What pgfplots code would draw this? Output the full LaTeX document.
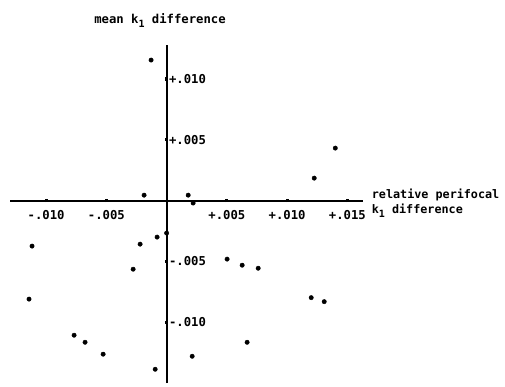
\documentclass[border=0pt]{standalone}
\usepackage{pgfplots}
\pgfplotsset{compat=1.18}
\usepackage{fontspec}
\setmainfont{DejaVu Sans Mono}
\newcommand{\sub}[1]{\raisebox{-3.5bp}{\fontsize{10}{10}\selectfont #1}}
\begin{document}
\begin{tikzpicture}
\path[use as bounding box] (0,0) rectangle (505bp,387bp);
\begin{axis}[
  at={(10bp,4bp)}, anchor=south west,
  scale only axis, width=353bp, height=338bp,
  xmin=-0.0130, xmax=0.0163, ymin=-0.0150, ymax=0.0128,
  axis lines=middle, axis line style={-, line width=1.8bp},
  clip=false, scaled ticks=false,
  xtick={-0.01,-0.005,0.005,0.01,0.015},
  xticklabels={-.010,-.005,+.005,+.010,+.015},
  ytick={-0.01,-0.005,0.005,0.01},
  yticklabels={-.010,-.005,+.005,+.010},
  major tick length=3.2bp,
  tick style={line width=3.2bp, black},
  ticklabel style={font=\fontsize{12.3}{14}\selectfont\bfseries},
  yticklabel style={anchor=west, xshift=0.5bp},
  xticklabel style={anchor=north, yshift=-5bp},
  xlabel={relative perifocal\\k\sub{1} difference},
  ylabel={mean k\sub{1} difference},
  xlabel style={font=\fontsize{11.8}{15}\selectfont\bfseries, anchor=west, align=left, inner sep=2bp, at={(axis description cs:1.019,0.5325)}},
  ylabel style={font=\fontsize{12.3}{14}\selectfont\bfseries, anchor=center, rotate=0, at={(axis description cs:0.425,1.072)}},
]
\addplot[only marks, mark=*, mark size=2.2bp, black] coordinates {
(-0.00129, 0.01156)
(-0.00187, 0.00045)
(0.00179, 0.00045)
(0.0022, -0.0002)
(0.01400, 0.00432)
(0.01225, 0.00185)
(-0.00079, -0.0030)
(0.0, -0.00267)
(-0.0022, -0.00358)
(-0.01117, -0.00374)
(-0.00278, -0.00564)
(0.00502, -0.00481)
(0.00627, -0.00531)
(0.0076, -0.00556)
(-0.01142, -0.0081)
(-0.00768, -0.01107)
(-0.00677, -0.01165)
(-0.00527, -0.01263)
(-0.00095, -0.01387)
(0.00212, -0.0128)
(0.00668, -0.01165)
(0.0120, -0.00798)
(0.01308, -0.00831)
};
\end{axis}
\end{tikzpicture}
\end{document}
